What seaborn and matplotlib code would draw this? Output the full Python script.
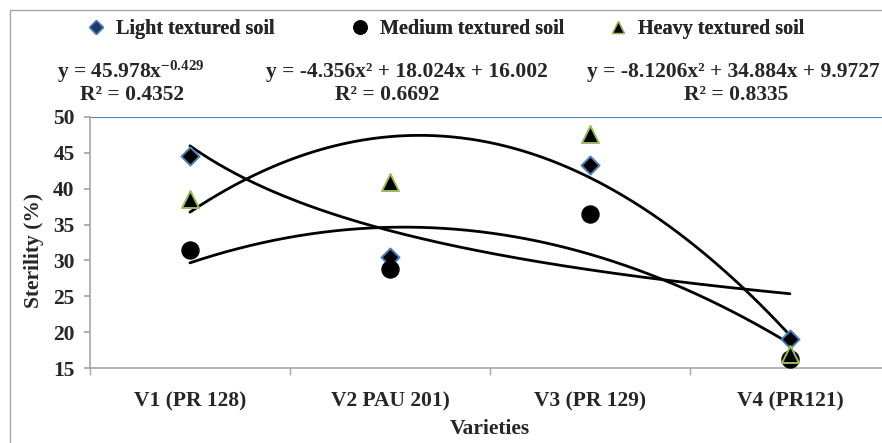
import numpy as np
import pandas as pd
import matplotlib
matplotlib.use("Agg")
import matplotlib.pyplot as plt
import seaborn as sns
from matplotlib.lines import Line2D

varieties = ["V1 (PR 128)", "V2 PAU 201)", "V3 (PR 129)", "V4 (PR121)"]
light = [44.5, 30.5, 43.3, 19.1]
medium = [31.5, 28.8, 36.5, 16.3]
heavy = [38.6, 41.0, 47.6, 16.9]

# trend line coefficients as printed on the chart
light_power = [45.978, -0.429]
medium_poly = [-4.356, 18.024, 16.002]
heavy_poly = [-8.1206, 34.884, 9.9727]
r2 = [0.4352, 0.6692, 0.8335]

sns.set_theme(style="white")
plt.rcParams["font.family"] = ["Liberation Serif", "DejaVu Serif"]
plt.rcParams["font.weight"] = "bold"
plt.rcParams["mathtext.fontset"] = "custom"
plt.rcParams["mathtext.rm"] = "Liberation Serif:bold"
plt.rcParams["mathtext.it"] = "Liberation Serif:bold"
plt.rcParams["mathtext.bf"] = "Liberation Serif:bold"

soils = ["Light textured soil", "Medium textured soil", "Heavy textured soil"]
df = pd.DataFrame({
    "variety": varieties * 3,
    "sterility": light + medium + heavy,
    "soil": [soils[0]] * 4 + [soils[1]] * 4 + [soils[2]] * 4,
})

fig = plt.figure(figsize=(8.82, 4.43), dpi=100)
ax = fig.add_axes([0.102, 0.169, 0.907, 0.567])

styles = {
    soils[0]: dict(marker="D", s=85, edgecolor="#4F81BD", color="black", linewidth=1.4),
    soils[1]: dict(marker="o", s=150, edgecolor="black", color="black", linewidth=1),
    soils[2]: dict(marker="^", s=150, edgecolor="#9BBB59", color="black", linewidth=1.4),
}

# trend lines: equations use x = 1..4, categories sit at 0..3
xs = np.linspace(1, 4, 200)
ax.plot(xs - 1, light_power[0] * xs ** light_power[1], color="black", lw=2, zorder=2)
ax.plot(xs - 1, np.polyval(medium_poly, xs), color="black", lw=2, zorder=2)
ax.plot(xs - 1, np.polyval(heavy_poly, xs), color="black", lw=2, zorder=2)

for soil, st in styles.items():
    sub = df[df["soil"] == soil]
    sns.scatterplot(data=sub, x="variety", y="sterility", ax=ax, zorder=3, legend=False, **st)

ax.axhline(50, color="#4F81BD", lw=1.5, zorder=1)
ax.set_xlim(-0.5, 3.5)
ax.set_ylim(15, 50)
ax.set_yticks(range(15, 51, 5))
ax.set_xticks(range(4))
ax.set_xticklabels(varieties)
ax.set_xticks([-0.5, 0.5, 1.5, 2.5], minor=True)
ax.tick_params(axis="x", which="major", length=0, labelsize=15.5, pad=17)
ax.tick_params(axis="x", which="minor", length=5, color="#A6A6A6", direction="out", bottom=True)
ax.tick_params(axis="y", length=4, color="#A6A6A6", direction="out", left=True, labelsize=15.5, pad=7)
for lab in ax.get_xticklabels() + ax.get_yticklabels():
    lab.set_fontweight("bold")

for sp in ["top", "right"]:
    ax.spines[sp].set_visible(False)
for sp in ["left", "bottom"]:
    ax.spines[sp].set_color("#A6A6A6")
    ax.spines[sp].set_linewidth(1.2)

ax.set_xlabel("Varieties", fontsize=15.5, fontweight="bold", labelpad=5)
ax.set_ylabel("Sterility (%)", fontsize=15.5, fontweight="bold")
ax.yaxis.set_label_coords(-0.058, 0.47)

# equations
fs = 15.5
eq_y = 1 - 72 / 443
r2_y = 1 - 95 / 443
fig.text(131 / 882, eq_y, "y = %.3fx$^{%.3f}$" % (light_power[0], light_power[1]),
         ha="center", va="center", fontsize=fs, fontweight="bold")
fig.text(132 / 882, r2_y, "R² = %.4f" % r2[0], ha="center", va="center", fontsize=fs, fontweight="bold")
fig.text(407 / 882, eq_y, "y = %.3fx² + %.3fx + %.3f" % tuple(medium_poly),
         ha="center", va="center", fontsize=fs, fontweight="bold")
fig.text(387 / 882, r2_y, "R² = %.4f" % r2[1], ha="center", va="center", fontsize=fs, fontweight="bold")
fig.text(733 / 882, eq_y, "y = %.4fx² + %.3fx + %.4f" % tuple(heavy_poly),
         ha="center", va="center", fontsize=fs, fontweight="bold")
fig.text(736 / 882, r2_y, "R² = %.4f" % r2[2], ha="center", va="center", fontsize=fs, fontweight="bold")

# legend entries, placed one by one like the original
handles = [
    Line2D([], [], ls="", marker="D", markersize=7, markerfacecolor="#1F3864", markeredgecolor="#4F81BD"),
    Line2D([], [], ls="", marker="o", markersize=9.5, markerfacecolor="black", markeredgecolor="black"),
    Line2D([], [], ls="", marker="^", markersize=9, markerfacecolor="black", markeredgecolor="#9BBB59"),
]
legend_x = [86, 350, 608]
for h, name, lx in zip(handles, soils, legend_x):
    leg = fig.legend([h], [name], loc="center left", bbox_to_anchor=(lx / 882, 1 - 29 / 443),
                     frameon=False, prop={"size": 14.5, "weight": "bold"},
                     handletextpad=0.5, handlelength=1, borderpad=0, borderaxespad=0)
    fig.add_artist(leg)

# outer chart frame (partially cropped)
fig.add_artist(Line2D([10 / 882, 10 / 882], [0, 1 - 10 / 443], transform=fig.transFigure, color="#A6A6A6", lw=1))
fig.add_artist(Line2D([10 / 882, 1], [1 - 10 / 443, 1 - 10 / 443], transform=fig.transFigure, color="#A6A6A6", lw=1))

fig.savefig("out.png", dpi=100)
